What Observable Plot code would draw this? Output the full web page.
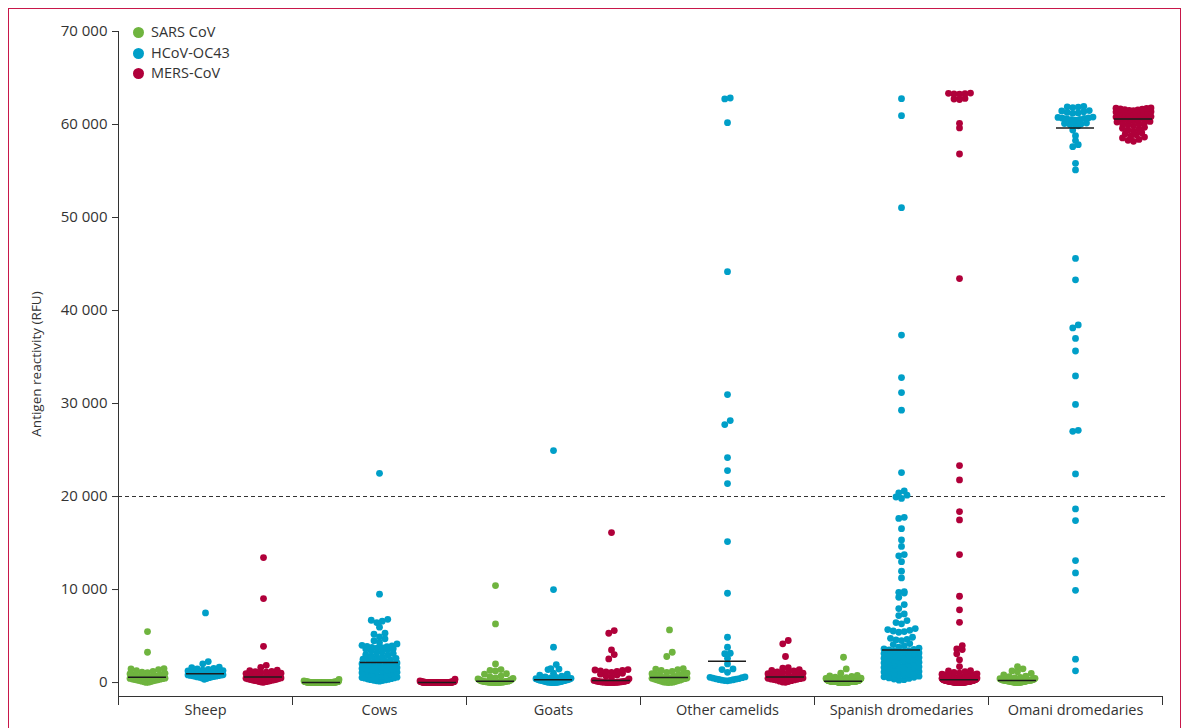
<!DOCTYPE html>
<html>
<head>
<meta charset="utf-8">
<script src="https://cdn.jsdelivr.net/npm/d3@7"></script>
<script src="https://cdn.jsdelivr.net/npm/@observablehq/plot@0.6"></script>
<style>
  html, body { margin: 0; padding: 0; background: #fff; }
  #wrap { position: relative; width: 1184px; height: 728px; overflow: hidden; font-family: "Open Sans", sans-serif; }
  #frame { position: absolute; left: 8px; top: 8px; width: 1173px; height: 800px; border: 1.5px solid #c8174a; box-sizing: border-box; }
  #chart { position: absolute; left: 0; top: 0; }
  #legend { position: absolute; left: 133px; top: 22px; font-size: 14.5px; color: #333; }
  .item { position: absolute; left: 0; white-space: nowrap; height: 20px; line-height: 20px; }
  .sw { display: inline-block; width: 11px; height: 11px; border-radius: 50%; vertical-align: -1px; margin-right: 7px; }
</style>
</head>
<body>
<div id="wrap">
  <div id="frame"></div>
  <div id="chart"></div>
  <div id="legend"></div>
</div>
<script>
// ---- categories ----
const groups = ["Sheep", "Cows", "Goats", "Other camelids", "Spanish dromedaries", "Omani dromedaries"];
const series = ["SARS CoV", "HCoV-OC43", "MERS-CoV"];
const colors = ["#6fb43f", "#009fc8", "#b0003a"];
const yTicks = [0, 10000, 20000, 30000, 40000, 50000, 60000, 70000];
const yLabel = "Antigen reactivity (RFU)";
const threshold = 20000;

// ---- values (RFU) ----
const sheepSARS = [5480, 3260, 1500, 1460, 1390, 1280, 1190, 1120, 1060, 990, 940, 880, 860, 800, 760, 710, 660, 630, 600, 580, 570, 550, 530, 510, 470, 440, 420, 380, 360, 330, 300, 270, 240, 210, 180, 150, 110, 80, 40, 10];
const sheepOC43 = [7490, 2260, 2010, 1650, 1590, 1520, 1470, 1410, 1340, 1290, 1240, 1180, 1150, 1110, 1070, 1040, 1010, 990, 960, 945, 925, 900, 880, 855, 830, 815, 790, 770, 740, 720, 690, 670, 640, 610, 590, 560, 520, 480, 430, 350];
const sheepMERS = [13440, 9030, 3900, 1850, 1620, 1320, 1270, 1210, 1160, 1110, 1060, 1010, 960, 900, 860, 810, 760, 700, 650, 600, 580, 560, 530, 500, 460, 430, 390, 350, 330, 300, 270, 250, 220, 190, 170, 140, 110, 90, 50, 20];

const cowsSARS = [330, 180, 150, 130, 120, 110, 100, 95, 90, 85, 80, 75, 70, 65, 60, 60, 55, 50, 50, 45, 40, 40, 35, 35, 30, 30, 30, 25, 25, 25, 20, 20, 20, 20, 15, 15, 15, 15, 10, 10, 10, 10, 10, 5, 5, 5, 5, 5, 5, 0, 0, 0, 0, 0, 0, 0, 0, 0, 0, 0, 0, 0, 0, 0, 0, 0, 0, 0, 0, 0, 0, 0, 0, 0, 0, 0, 0, 0, 0, 0];
const cowsOC43 = [22500, 9500, 6800, 6700, 6600, 6450, 5950, 5300, 5200, 4900, 4700, 4500, 4300, 4150, 4000, 3950, 3880, 3850, 3790, 3750, 3700, 3640, 3600, 3500, 3390, 3300, 3200, 3110, 3000, 2920, 2810, 2750, 2690, 2600, 2510, 2440, 2400, 2310, 2260, 2200, 2100, 2020, 1980, 1890, 1850, 1760, 1700, 1680, 1590, 1520, 1480, 1400, 1370, 1290, 1240, 1180, 1120, 1060, 1010, 980, 920, 860, 830, 770, 720, 690, 640, 580, 540, 500, 470, 420, 380, 340, 310, 280, 240, 210, 180, 150];
const cowsMERS = [355, 170, 140, 120, 110, 100, 90, 85, 80, 75, 70, 65, 60, 55, 50, 45, 45, 40, 40, 35, 35, 30, 30, 30, 25, 25, 25, 20, 20, 20, 20, 15, 15, 15, 15, 10, 10, 10, 10, 10, 5, 5, 5, 5, 0, 0, 0, 0, 0, 0, 0, 0, 0, 0, 0, 0, 0, 0, 0, 0, 0, 0, 0, 0, 0, 0, 0, 0, 0, 0, 0, 0, 0, 0, 0, 0, 0, 0, 0, 0];

const goatsSARS = [10430, 6300, 2000, 1400, 1300, 1250, 950, 900, 700, 600, 500, 450, 400, 350, 300, 260, 220, 190, 170, 150, 130, 120, 110, 100, 90, 80, 70, 60, 50, 40, 30, 25, 20, 15, 10, 5, 0, 0, 0, 0];
const goatsOC43 = [24940, 10000, 3800, 1930, 1500, 1450, 1400, 1000, 900, 800, 700, 600, 550, 500, 450, 420, 380, 350, 320, 300, 280, 260, 240, 220, 200, 180, 160, 140, 120, 100, 80, 60, 50, 40, 30, 20, 10, 0, 0, 0];
const goatsMERS = [16125, 5590, 5300, 3510, 3010, 2540, 1400, 1350, 1300, 1250, 1200, 1150, 1100, 1000, 900, 800, 700, 550, 400, 230, 200, 180, 160, 140, 120, 100, 90, 80, 70, 60, 50, 40, 30, 20, 10, 0, 0, 0, 0, 0];

const otherSARS = [5660, 3260, 2800, 1500, 1450, 1400, 1300, 1200, 1100, 1000, 950, 900, 850, 800, 700, 650, 560, 520, 480, 450, 420, 380, 350, 300, 260, 220, 180, 140, 100, 60, 40, 20, 10, 0];
const otherOC43 = [62850, 62750, 60200, 44180, 30960, 28165, 27735, 24190, 22790, 21390, 15160, 9600, 4870, 3800, 3150, 3100, 2600, 2000, 1470, 1400, 1100, 600, 560, 520, 480, 430, 400, 370, 330, 300, 270, 240, 210, 180];
const otherMERS = [4520, 4160, 2800, 1600, 1550, 1400, 1300, 1250, 1150, 1100, 1050, 1000, 950, 900, 850, 800, 620, 600, 580, 550, 520, 480, 450, 420, 380, 350, 320, 280, 250, 200, 150, 100, 60, 20];

const spanishSARS = [2720, 1470, 1000, 780, 720, 650, 590, 540, 500, 470, 440, 415, 390, 370, 350, 330, 315, 300, 285, 272, 260, 250, 240, 232, 224, 216, 208, 200, 195, 190, 185, 180, 176, 172, 168, 164, 161, 158, 155, 152, 150, 148, 147, 146, 145, 144, 143, 142, 142, 141, 141, 140, 140, 139, 136, 133, 130, 127, 124, 121, 118, 115, 112, 109, 106, 103, 100, 96, 92, 88, 84, 80, 76, 72, 68, 64, 60, 56, 52, 48, 44, 40, 36, 32, 28, 24, 20, 16, 12, 8, 4, 0, 0, 0, 0, 0, 0, 0, 0, 0, 0, 0, 0, 0, 0];
const spanishOC43 = [62780, 60950, 51060, 37360, 32790, 31180, 29290, 22575, 20600, 20400, 20150, 19950, 19800, 17770, 17650, 16540, 15340, 14640, 13760, 13620, 13000, 11970, 11250, 9780, 9700, 9620, 9170, 8385, 7955, 7380, 7200, 6665, 6450, 6310, 5800, 5700, 5620, 5540, 5480, 5410, 4870, 4760, 4650, 4580, 4515, 4190, 4080, 3950, 3800, 3700, 3620, 3560, 3510, 3440, 3380, 3310, 3250, 3190, 3120, 3060, 2990, 2930, 2870, 2810, 2740, 2690, 2620, 2560, 2500, 2440, 2380, 2310, 2250, 2190, 2120, 2070, 2000, 1940, 1880, 1810, 1750, 1690, 1630, 1560, 1500, 1440, 1380, 1320, 1250, 1190, 1130, 1060, 1000, 940, 880, 810, 750, 690, 620, 560, 500, 440, 380, 310, 250];
const spanishMERS = [63380, 63350, 63320, 63290, 63260, 62800, 62740, 62680, 60130, 59630, 56830, 43430, 23330, 21790, 18380, 17490, 13760, 9280, 7815, 6480, 3980, 3620, 3550, 3085, 2440, 1720, 1290, 1240, 1180, 1100, 1020, 935, 890, 850, 810, 780, 740, 700, 670, 630, 600, 570, 540, 510, 480, 450, 420, 390, 360, 330, 310, 300, 290, 280, 270, 260, 250, 240, 230, 220, 210, 200, 195, 190, 180, 170, 165, 160, 150, 145, 140, 130, 125, 120, 110, 105, 100, 95, 90, 85, 80, 75, 70, 65, 60, 55, 50, 45, 40, 35, 30, 25, 20, 15, 10, 10, 5, 5, 0, 0, 0, 0, 0, 0, 0];

const omaniSARS = [1720, 1480, 1250, 1150, 980, 820, 700, 640, 560, 500, 450, 420, 390, 360, 340, 320, 300, 285, 270, 260, 250, 240, 230, 220, 218, 212, 205, 195, 185, 175, 165, 150, 140, 130, 120, 110, 100, 90, 80, 70, 60, 50, 40, 30, 25, 20, 15, 10, 5, 0];
const omaniOC43 = [61950, 61900, 61870, 61820, 61500, 61450, 61380, 61300, 61250, 61200, 60800, 60760, 60720, 60680, 60650, 60600, 60560, 60520, 60480, 60150, 60100, 60050, 60000, 59950, 59860, 59400, 58800, 58270, 57830, 57620, 55830, 55120, 45600, 43300, 38450, 38130, 37000, 35650, 32970, 29900, 27120, 27010, 22430, 18670, 17410, 13110, 11790, 9920, 2510, 1260];
const omaniMERS = [61780, 61750, 61720, 61690, 61650, 61610, 61570, 61530, 61490, 61380, 61340, 61300, 61250, 61200, 61150, 61100, 61050, 61000, 60950, 60900, 60850, 60800, 60750, 60700, 60650, 60550, 60500, 60450, 60400, 60330, 60260, 60190, 60120, 60050, 59980, 59850, 59700, 59600, 59500, 59380, 59250, 59120, 59000, 58900, 58750, 58650, 58560, 58400, 58300, 58190];

const seriesData = [
  [sheepSARS, sheepOC43, sheepMERS],
  [cowsSARS, cowsOC43, cowsMERS],
  [goatsSARS, goatsOC43, goatsMERS],
  [otherSARS, otherOC43, otherMERS],
  [spanishSARS, spanishOC43, spanishMERS],
  [omaniSARS, omaniOC43, omaniMERS]
];

// ---- layout ----
const W = 1184, H = 728, mL = 118, mR = 22, mT = 31, mB = 32;
const yDomain = [-1500, 70000];
const nSlots = groups.length * series.length;
const unit = (W - mL - mR) / nSlots;
const yPx = d3.scaleLinear(yDomain, [H - mB, mT]);
const ROW = 4.5, GAP = 5.5, SPAN = 35;   // scatter-dot row height, dot gap, max row span (px)

const points = [];
seriesData.forEach((trio, gi) => trio.forEach((vals, si) => {
  const slot = gi * series.length + si;
  const pts = vals.map(v => ({group: groups[gi], series: series[si], value: v, slot, py: yPx(v)}))
    .sort((a, b) => b.py - a.py);
  const rows = [];
  let row = null;
  for (const p of pts) {
    if (!row || row[0].py - p.py > ROW) { row = [p]; rows.push(row); } else row.push(p);
  }
  for (const r of rows) {
    const n = r.length, s = n > 1 ? Math.min(GAP, SPAN / (n - 1)) : 0;
    const offs = d3.range(n).map(j => (j - (n - 1) / 2) * s)
      .sort((a, b) => Math.abs(a) - Math.abs(b) || a - b);
    r.sort((a, b) => a.value - b.value).forEach((p, j) => { p.x = slot + 0.5 + offs[j] / unit; });
  }
  points.push(...pts);
}));

const fmt = d => d3.format(",")(d).replace(/,/g, " ");
const bounds = d3.range(0, nSlots + 1, series.length);
const halfMed = 19 / unit;

const chart = Plot.plot({
  width: W, height: H,
  marginTop: mT, marginBottom: mB, marginLeft: mL, marginRight: mR,
  style: {fontFamily: "'Open Sans', sans-serif", fontSize: "15px", color: "#333", background: "transparent"},
  x: {domain: [0, nSlots], ticks: bounds, tickFormat: () => "", tickSize: 9, line: true, label: null},
  y: {domain: yDomain, ticks: yTicks, tickFormat: fmt, tickSize: 6, tickPadding: 5, line: true, label: null},
  color: {domain: series, range: colors},
  marks: [
    Plot.ruleY([threshold], {x1: 0, x2: nSlots + 0.06, stroke: "#333", strokeWidth: 1.1, strokeDasharray: "4,3"}),
    Plot.dot(points, {x: "x", y: "value", r: 3.4, fill: "series"}),
    Plot.ruleY(points, Plot.groupZ(
      {y: "median", x1: "first", x2: "first"},
      {z: "slot", y: "value", x1: d => d.slot + 0.5 - halfMed, x2: d => d.slot + 0.5 + halfMed, stroke: "#1c1c1c", strokeWidth: 1.5})),
    Plot.text(groups, {x: (d, i) => i * series.length + series.length / 2, frameAnchor: "bottom", dy: 18, text: d => d, fontSize: 14.5, fill: "#333"}),
    Plot.text([yLabel], {frameAnchor: "left", textAnchor: "middle", dx: -82, rotate: -90, text: d => d, fontSize: 13.5, fill: "#333"})
  ]
});
document.getElementById("chart").appendChild(chart);

// legend
const legend = document.getElementById("legend");
series.forEach((s, i) => {
  const it = document.createElement("div");
  it.className = "item";
  it.style.top = (i * 20.5) + "px";
  it.innerHTML = `<span class="sw" style="background:${colors[i]}"></span>${s}`;
  legend.appendChild(it);
});
</script>
</body>
</html>
